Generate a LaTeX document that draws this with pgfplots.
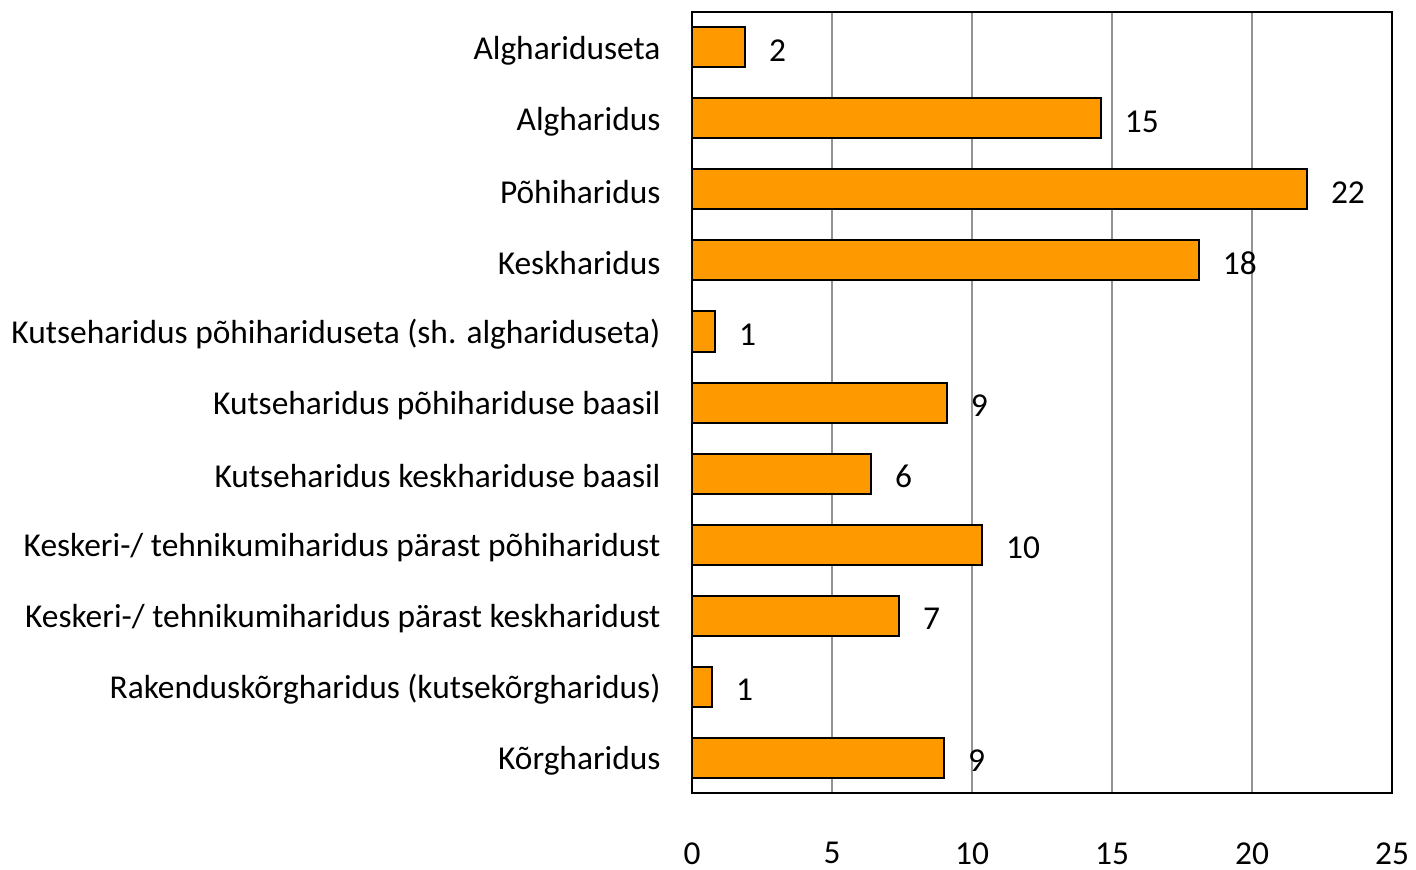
\documentclass[border=0pt]{standalone}
\usepackage{fontspec}
\setmainfont{Carlito}
\usepackage{pgfplots}
\pgfplotsset{compat=1.18}
\definecolor{barorange}{HTML}{FF9900}
\begin{document}
\fontsize{16.7pt}{19pt}\selectfont
\begin{tikzpicture}
\begin{axis}[
  name=ax,
  xbar,
  scale only axis,
  width=350pt, height=390.5pt,
  xmin=0, xmax=25,
  ymin=-0.5, ymax=10.5,
  y dir=reverse,
  bar width=20pt,
  xtick={0,5,10,15,20,25},
  ytick={0,...,10},
  yticklabels={Alghariduseta, Algharidus, Põhiharidus, Keskharidus, Kutseharidus põhihariduseta (sh. alghariduseta), Kutseharidus põhihariduse baasil, Kutseharidus keskhariduse baasil, Keskeri-/ tehnikumiharidus pärast põhiharidust, Keskeri-/ tehnikumiharidus pärast keskharidust, Rakenduskõrgharidus (kutsekõrgharidus), Kõrgharidus},
  major tick length=0pt,
  xmajorgrids,
  grid style={draw=gray!85, line width=0.8pt},
  axis line style={line width=1pt, black},
  tick label style={font=\fontsize{16.7pt}{19pt}\selectfont},
  /pgf/number format/assume math mode=true,
  xticklabel style={yshift=-19pt},
  yticklabel style={xshift=-10pt, yshift=-1.5pt},
  nodes near coords,
  nodes near coords style={font=\fontsize{16.7pt}{19pt}\selectfont, anchor=west, xshift=6pt, yshift=-1.5pt, /pgf/number format/.cd, fixed, precision=0, assume math mode=true},
]
\addplot[fill=barorange, draw=black, line width=1pt] coordinates {
  (1.89,0) (14.6,1) (21.96,2) (18.1,3) (0.82,4) (9.1,5) (6.39,6) (10.36,7) (7.39,8) (0.71,9) (9.0,10)
};
\end{axis}
\pgfresetboundingbox
\path (ax.south west) ++(-346pt,-38.5pt) rectangle ++(708pt,435pt);
\end{tikzpicture}
\end{document}
